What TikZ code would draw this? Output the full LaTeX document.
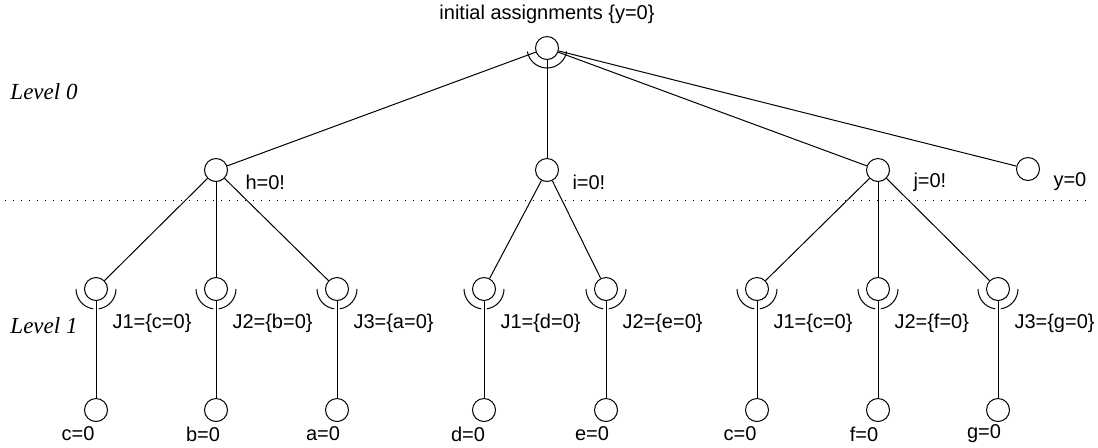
\documentclass[tikz,border=0pt]{standalone}
\usepackage{fontspec}
\setmainfont{Liberation Sans}
\newfontfamily\levelfont{Liberation Serif}
\usetikzlibrary{positioning}

% split arc under a goal node (one on each side of the outgoing edge)
\newcommand{\andmark}[1]{%
  \draw ([shift={(180:10pt)}]#1.center) arc (180:262:10pt);
  \draw ([shift={(278:10pt)}]#1.center) arc (278:360:10pt);}

\begin{document}
\begin{tikzpicture}[
  x=0.5pt, y=-0.5pt,
  font=\fontsize{10}{12}\selectfont,
  line width=0.5pt,
  goal/.style={circle, draw, minimum size=11.5pt, inner sep=0pt},
  txt/.style={inner sep=0pt, anchor=west},
  leaflbl/.style={inner sep=0pt},
  lvl/.style={inner sep=0pt, anchor=west,
    font=\levelfont\itshape\fontsize{11.5}{13}\selectfont},
  sep/.style={dash pattern=on 0.6pt off 3.4pt}
]
  \useasboundingbox (0,0) rectangle (1098,447);

  % root
  \node[goal] (root) at (547,48) {};
  \node[leaflbl, above=6pt of root] (title) {initial assignments \{y=0\}};

  % level 0 goals
  \node[goal] (h) at (216,170) {};
  \node[goal] (i) at (547,170) {};
  \node[goal] (j) at (878,170) {};
  \node[goal] (y) at (1028,169) {};
  \node[txt] (hl) at (245,182) {h=0!};
  \node[txt] (il) at (572,182) {i=0!};
  \node[txt] (jl) at (913,182) {j=0!};
  \node[txt] (yl) at (1053,182) {y=0};

  % justifications
  \node[goal] (hj1) at (96,289) {};
  \node[goal] (hj2) at (216,289) {};
  \node[goal] (hj3) at (337,289) {};
  \node[goal] (ij1) at (484,289) {};
  \node[goal] (ij2) at (606,289) {};
  \node[goal] (jj1) at (757,289) {};
  \node[goal] (jj2) at (878,289) {};
  \node[goal] (jj3) at (998,289) {};
  \node[txt] (hj1l) at (112,323) {J1=\{c=0\}};
  \node[txt] (hj2l) at (232,323) {J2=\{b=0\}};
  \node[txt] (hj3l) at (353,323) {J3=\{a=0\}};
  \node[txt] (ij1l) at (500,323) {J1=\{d=0\}};
  \node[txt] (ij2l) at (622,323) {J2=\{e=0\}};
  \node[txt] (jj1l) at (773,323) {J1=\{c=0\}};
  \node[txt] (jj2l) at (894,323) {J2=\{f=0\}};
  \node[txt] (jj3l) at (1014,323) {J3=\{g=0\}};

  % leaves
  \node[goal] (c1) at (96,410) {};
  \node[goal] (b)  at (216,410) {};
  \node[goal] (a)  at (337,410) {};
  \node[goal] (d)  at (484,410) {};
  \node[goal] (e)  at (606,410) {};
  \node[goal] (c2) at (757,410) {};
  \node[goal] (f)  at (878,410) {};
  \node[goal] (g)  at (998,410) {};
  \node[leaflbl] (c1l) at (78,434) {c=0};
  \node[leaflbl] (bl)  at (203,434) {b=0};
  \node[leaflbl] (al)  at (323,434) {a=0};
  \node[leaflbl] (dl)  at (468,434) {d=0};
  \node[leaflbl] (el)  at (592,434) {e=0};
  \node[leaflbl] (c2l) at (740,434) {c=0};
  \node[leaflbl] (fl)  at (864,434) {f=0};
  \node[leaflbl] (gl)  at (984,434) {g=0};

  % levels
  \node[lvl] (lev0) at (10,92) {Level 0};
  \node[lvl] (lev1) at (10,326) {Level 1};
  \coordinate (sepL) at (5,200);
  \coordinate (sepR) at (1092,200);
  \draw[sep] (sepL) -- (sepR);

  % edges
  \draw (root) -- (h);
  \draw (root) -- (i);
  \draw (root) -- (j);
  \draw (root) -- (y);
  \draw ([shift={(190:10pt)}]root.center) arc (190:350:10pt);

  \draw (h) -- (hj1);
  \draw (h) -- (hj2);
  \draw (h) -- (hj3);
  \draw (i) -- (ij1);
  \draw (i) -- (ij2);
  \draw (j) -- (jj1);
  \draw (j) -- (jj2);
  \draw (j) -- (jj3);

  \draw (hj1) -- (c1);
  \draw (hj2) -- (b);
  \draw (hj3) -- (a);
  \draw (ij1) -- (d);
  \draw (ij2) -- (e);
  \draw (jj1) -- (c2);
  \draw (jj2) -- (f);
  \draw (jj3) -- (g);

  \andmark{hj1} \andmark{hj2} \andmark{hj3}
  \andmark{ij1} \andmark{ij2}
  \andmark{jj1} \andmark{jj2} \andmark{jj3}
\end{tikzpicture}
\end{document}
